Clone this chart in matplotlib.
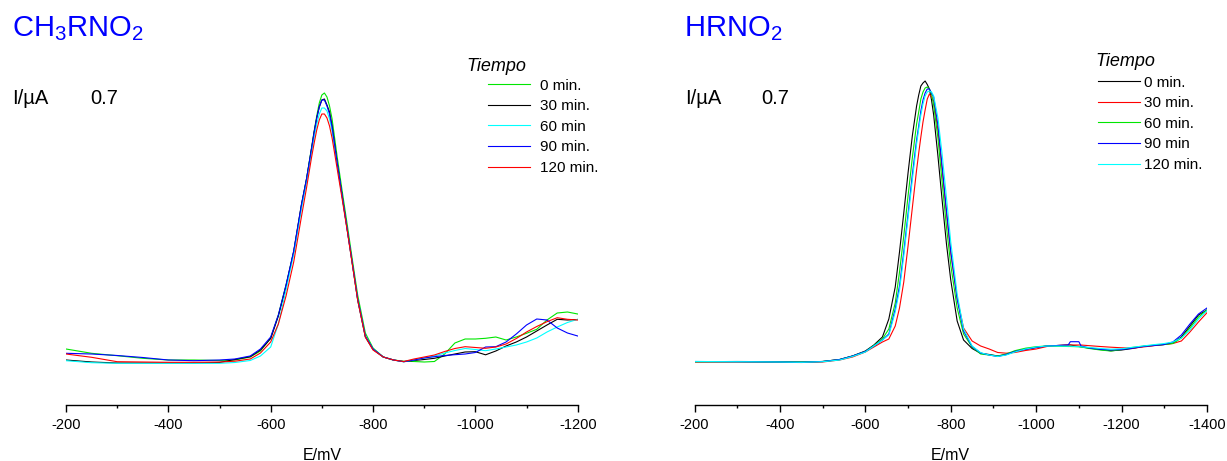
import matplotlib
matplotlib.use("Agg")
import matplotlib.pyplot as plt
from matplotlib.ticker import MultipleLocator
from matplotlib.lines import Line2D

plt.rcParams["font.family"] = ["Liberation Sans", "DejaVu Sans"]
plt.rcParams["mathtext.default"] = "regular"
plt.rcParams["axes.unicode_minus"] = False

# ---- CH3RNO2 : potential (mV) and current (arbitrary units, baseline = 0)
e_ch3 = [-200, -250, -300, -350, -400, -450, -500, -530, -560, -580,
         -600, -615, -630, -645, -660, -670, -680, -685, -690, -695, -700,
         -705, -710, -715, -720, -730, -740, -750, -760, -770, -785,
         -800, -820, -840, -860,
         -880, -900, -920, -940, -960, -980, -1000, -1020, -1040, -1060,
         -1080, -1100, -1120, -1140, -1160, -1180, -1200]

ch3_0 = [13, 8.7, 6.3, 3.7, 2, 2, 1.5, 2, 5, 11,
         24, 47, 77, 110, 156, 183, 215, 231, 246, 259, 267, 269, 265, 256, 243,
         205, 170, 136, 101, 67, 29,
         14, 5, 2, 0.8,
         0.5, 0, 0.5, 8, 19, 23, 23, 23.7, 25, 22, 25, 28.7, 32.7, 42, 49, 50, 48]
ch3_30 = [2, 0, -1, -1, -1, -1, -0.5, 2.5, 5.3, 12,
          23.5, 46, 76, 110.5, 157, 182.7, 213.5, 230, 244, 255, 262, 263, 257, 250, 236,
          199, 165, 131, 97, 62, 25,
          12.5, 5, 2, 0.3,
          1.5, 2.5, 3.7, 6, 8, 10, 10.3, 7.2, 11, 16, 20, 25, 31, 37, 42.7, 42, 42.5]
ch3_60 = [1.3, -0.7, -1.3, -1.3, -1.3, -1.3, -1.3, -0.5, 1.5, 6,
          15, 38, 72, 108, 153, 180, 210, 225, 238, 248, 254, 254, 251, 243, 231,
          197, 164, 131, 97, 63, 26,
          13, 5, 2, 0.3,
          2, 4, 6, 9, 11.5, 13.5, 12.5, 11.3, 13, 15, 17, 20, 24, 30, 35, 39.5, 42.7]
ch3_90 = [8.7, 8, 6.5, 4.5, 2, 1.3, 2, 3, 6, 13,
          25, 47, 77, 111, 157, 183, 214, 230, 244, 255, 262, 262, 256, 248, 235,
          199, 165, 131, 97, 63, 26,
          13, 5, 2, 0.3,
          2, 4, 5.3, 6.5, 7.3, 8, 9.5, 15, 15.3, 20, 28, 37, 43, 42, 34, 29, 26]
ch3_120 = [8, 4.7, 0.3, 0, -0.3, -0.3, 0, 0.8, 3, 9,
           20, 38, 66, 100, 145, 174, 205, 219, 232, 242, 248, 248, 244, 236, 224,
           193, 162, 130, 96, 62, 25,
           12, 5, 2, 0.5,
           3, 5, 7, 10.5, 13.5, 15.3, 14.5, 13.7, 15, 18, 23.5, 30, 35.5, 40.3, 44.3, 42.7, 42]

# ---- HRNO2
e_h = [-200, -300, -400, -450, -500, -540, -570, -600, -620, -640, -655,
       -670, -680, -690, -700, -710, -720, -725, -730, -735, -740, -745, -750,
       -755, -760, -770, -780, -790, -800,
       -815, -830, -850,
       -870, -890, -910, -930, -950, -975, -1000, -1025, -1050, -1075, -1080, -1100,
       -1105, -1125, -1150, -1175, -1200, -1225, -1250, -1275, -1300, -1320, -1340,
       -1360, -1380, -1400]

h_0 = [0.3, 0.5, 0.3, 0, 0.5, 2.5, 6, 11, 17, 25, 43,
       75, 110, 149, 189, 226, 256, 267, 276, 279, 281, 277.5, 273, 262, 247, 206, 161, 118, 82,
       41, 22, 13.5,
       8.7, 7.5, 6, 7.5, 10.5, 12.7, 14.5, 16, 16.5, 17, 17, 15.5, 15.2, 13.8, 12.5,
       11.2, 12, 13.5, 15.5, 16.5, 17.5, 19, 25, 36, 47, 52]
h_30 = [0, 0, -0.3, -0.5, 0, 2, 5, 10, 15, 20, 23,
        36, 54, 80, 116, 154, 192, 209, 225, 240, 252, 263, 268, 265, 261, 232, 192, 149, 109,
        64, 34, 21,
        16, 13, 9.5, 8.8, 9.5, 11.5, 13, 15.5, 16.5, 17, 17, 17, 17, 16.3, 15.5,
        14.8, 14.2, 13.8, 15, 16.3, 17.5, 18.5, 21, 30, 40, 49.3]
h_60 = [0.3, 0.3, 0, 0, 0.5, 2.5, 6, 10.5, 16.5, 23, 33,
        59, 90, 126, 166, 204, 238, 250, 263, 270, 274, 275, 273, 268, 257, 224, 179, 135, 97,
        54, 28, 15,
        8, 7, 6, 8, 11.3, 13.8, 15.3, 16, 15.8, 15.5, 15.5, 15.3, 15, 13.5, 12,
        11, 12.5, 14.5, 15.8, 16.8, 17.5, 18.5, 24, 34, 45, 52]
h_90 = [0.5, 0.3, 0, -0.3, 0.5, 2.5, 6, 10.5, 16, 22, 28,
        53, 76, 110, 148, 187, 222, 236, 251, 262, 269, 273, 273, 269, 265, 237, 195, 151, 111,
        63, 31, 15.5,
        9, 7, 5.5, 7.5, 10.5, 12.7, 14.5, 16, 16.5, 17, 20.3, 20.3, 16, 14, 12.7,
        12, 12.5, 13.8, 15.5, 16.5, 17.5, 20, 27, 38, 48, 54]
h_120 = [0.5, 0.3, 0, -0.3, 0.3, 2, 5.5, 10, 16, 22, 27,
         50, 72, 106, 144, 182, 218, 233, 247, 258, 266, 270, 271, 270, 266, 244, 207, 164, 120,
         68, 33, 16,
         9.3, 7, 5.5, 7, 10, 13, 15, 16, 16, 15.8, 15.8, 15.3, 15.2, 14.5, 13.5,
         12.8, 13.2, 14.7, 16, 17.3, 18.5, 20, 24, 32, 43, 51.3]

labels_ch3 = ["0 min.", "30 min.", "60 min", "90 min.", "120 min."]
labels_h = ["0 min.", "30 min.", "60 min.", "90 min", "120 min."]

GREEN, BLACK, CYAN, BLUE, RED = "#00e600", "black", "#00ffff", "#0000ff", "#ff0000"

W, H = 1227, 461
fig = plt.figure(figsize=(W / 100, H / 100), dpi=100)


def fx(px):
    return px / W


def fy(py):
    return 1 - py / H


def make_axes(x0, x1, xmax):
    ax = fig.add_axes([fx(x0), fy(405), fx(x1) - fx(x0), fy(40) - fy(405)])
    ax.set_xlim(-200, xmax)
    ax.set_ylim(-43, 322)
    for s in ["top", "left", "right"]:
        ax.spines[s].set_visible(False)
    ax.spines["bottom"].set_linewidth(1.0)
    ax.set_yticks([])
    ax.xaxis.set_major_locator(MultipleLocator(200))
    ax.xaxis.set_minor_locator(MultipleLocator(100))
    ax.tick_params(axis="x", which="major", direction="out", length=5, width=1,
                   labelsize=10.5, pad=4.5)
    ax.tick_params(axis="x", which="minor", direction="out", length=2.5, width=1)
    ax.set_xlabel("E/mV", fontsize=11.5, labelpad=11.5)
    ax.patch.set_alpha(0)
    return ax


ax1 = make_axes(66, 577.7, -1200)
curves1 = [(ch3_0, GREEN), (ch3_30, BLACK), (ch3_60, CYAN), (ch3_90, BLUE), (ch3_120, RED)]
for y, c in curves1:
    ax1.plot(e_ch3, y, color=c, lw=0.8)

ax2 = make_axes(694.5, 1207, -1400)
curves2 = [(h_0, BLACK), (h_30, RED), (h_60, GREEN), (h_90, BLUE), (h_120, CYAN)]
for y, c in curves2:
    ax2.plot(e_h, y, color=c, lw=0.8)

# titles and scale labels
fig.text(fx(12), fy(36), r"CH$_3$RNO$_2$", color="#0000ff", fontsize=21, va="baseline")
fig.text(fx(684), fy(36), r"HRNO$_2$", color="#0000ff", fontsize=21, va="baseline")
for x_i, x_v in [(12.5, 90), (684.8, 761.6)]:
    fig.text(fx(x_i), fy(104), "I/µA", fontsize=14.5, va="baseline")
    fig.text(fx(x_v), fy(104), "0.7", fontsize=14.5, va="baseline")

# legends
fig.text(fx(466.7), fy(70.7), "Tiempo", style="italic", fontsize=13, va="baseline")
fig.text(fx(1095), fy(66), "Tiempo", style="italic", fontsize=13, va="baseline")

h1 = [Line2D([], [], color=c, lw=0.8) for _, c in curves1]
ax1.legend(h1, labels_ch3, loc="upper left", bbox_to_anchor=(fx(488), fy(78.7)),
           bbox_transform=fig.transFigure, frameon=False, borderpad=0,
           borderaxespad=0, handlelength=2.78, handletextpad=0.6,
           labelspacing=0.43, fontsize=11)
h2 = [Line2D([], [], color=c, lw=0.8) for _, c in curves2]
ax2.legend(h2, labels_h, loc="upper left", bbox_to_anchor=(fx(1097.7), fy(75.7)),
           bbox_transform=fig.transFigure, frameon=False, borderpad=0,
           borderaxespad=0, handlelength=2.78, handletextpad=0.26,
           labelspacing=0.43, fontsize=11)

fig.savefig("out.png", dpi=100)
